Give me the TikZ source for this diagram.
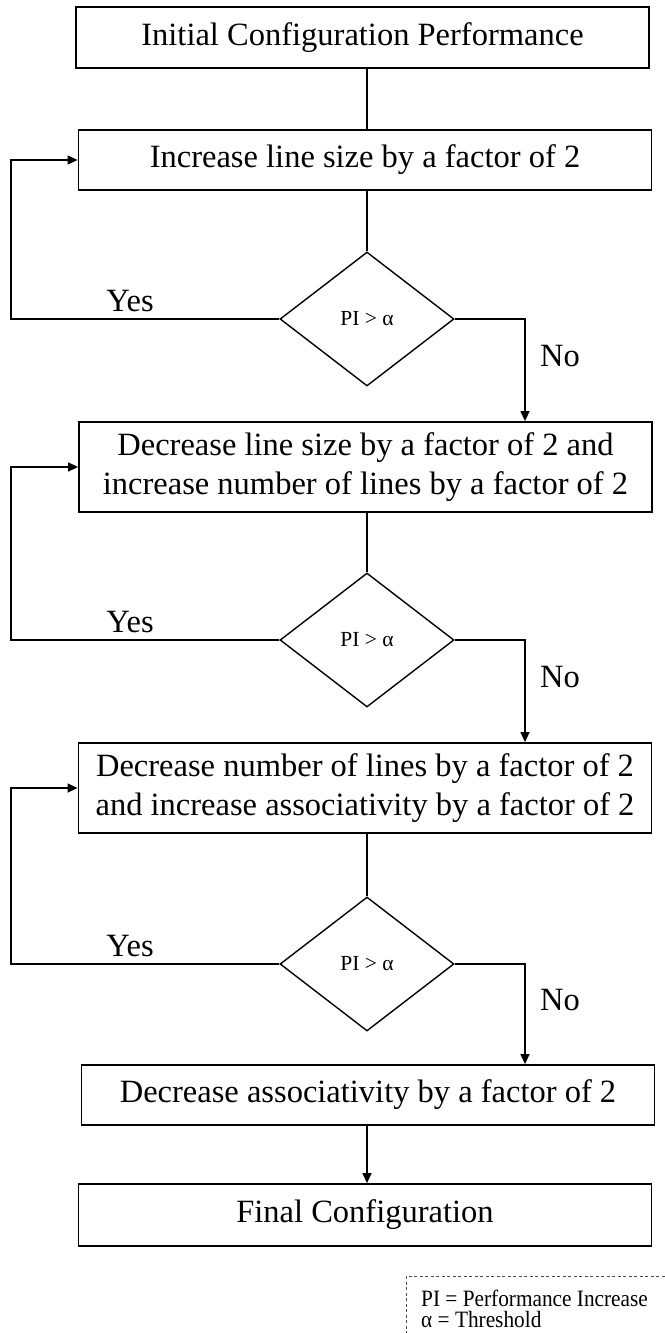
\documentclass[tikz,border=0pt]{standalone}
\usepackage{fontspec}
\setmainfont{Liberation Serif}
\usetikzlibrary{shapes.geometric,arrows.meta}
\begin{document}
\begin{tikzpicture}[x=1pt,y=-1pt,
  stepbox/.style={draw, line width=1.8pt, rectangle, inner sep=0pt,
    minimum width=573pt, align=center,
    font=\fontsize{32.5}{39}\selectfont},
  test/.style={draw, line width=1.4pt, diamond, inner sep=0pt,
    minimum width=174pt, minimum height=134pt,
    font=\fontsize{21.5}{25}\selectfont},
  link/.style={line width=1.3pt},
  arr/.style={link, -{Triangle[length=10pt,width=9pt]}},
  lbl/.style={anchor=base, inner sep=0pt, font=\fontsize{32.5}{39}\selectfont},
  keytext/.style={anchor=base west, inner sep=0pt,
    font=\fontsize{21.3}{21}\selectfont},
]
\useasboundingbox (0,0) rectangle (664,1333);

% process boxes
\node[stepbox, minimum height=61pt] (b1) at (362.5,37.5) {Initial Configuration Performance};
\node[stepbox, minimum height=60pt] (b2) at (365,160) {Increase line size by a factor of 2};
\node[stepbox, minimum height=90pt] (b3) at (365.5,467) {Decrease line size by a factor of 2 and\\increase number of lines by a factor of 2};
\node[stepbox, minimum height=90pt] (b4) at (365,788) {Decrease number of lines by a factor of 2\\and increase associativity by a factor of 2};
\node[stepbox, minimum height=60pt] (b5) at (368,1095) {Decrease associativity by a factor of 2};
\node[stepbox, minimum height=62pt] (b6) at (365,1215) {Final Configuration};

% decisions
\node[test] (d1) at (367,319) {PI > α};
\node[test] (d2) at (367,640) {PI > α};
\node[test] (d3) at (367,964) {PI > α};

% columns for the side connectors
\coordinate (colL) at (11,0);
\coordinate (colR) at (525,0);

% main flow
\draw[link] (d1 |- b1.south) -- (d1 |- b2.north);
\draw[link] (d1 |- b2.south) -- (d1.north);
\draw[link] (d2 |- b3.south) -- (d2.north);
\draw[link] (d3 |- b4.south) -- (d3.north);
\draw[arr] (d3 |- b5.south) -- (d3 |- b6.north);

% "No" branches
\draw[arr] (d1.east) -| (b3.north -| colR);
\draw[arr] (d2.east) -| (b4.north -| colR);
\draw[arr] (d3.east) -| (b5.north -| colR);

% "Yes" loops
\draw[arr] (d1.west) -| (colL |- b2.west) -- (b2.west);
\draw[arr] (d2.west) -| (colL |- b3.west) -- (b3.west);
\draw[arr] (d3.west) -| (colL |- b4.west) -- (b4.west);

% branch labels
\node[lbl] (y1) at (130,311) {Yes};
\node[lbl] (y2) at (130,632) {Yes};
\node[lbl] (y3) at (130,956) {Yes};
\node[lbl] (n1) at (560,366) {No};
\node[lbl] (n2) at (560,687) {No};
\node[lbl] (n3) at (560,1010) {No};

% key
\draw[line width=0.8pt, gray!60!black, dash pattern=on 3pt off 2.5pt] (670,1276) -| (406,1340);
\node[keytext] (key1) at (421,1306) {\scalebox{1}[1.1]{PI = Performance Increase}};
\node[keytext] (key2) at (421,1327) {\scalebox{1}[1.1]{α = Threshold}};
\end{tikzpicture}
\end{document}
